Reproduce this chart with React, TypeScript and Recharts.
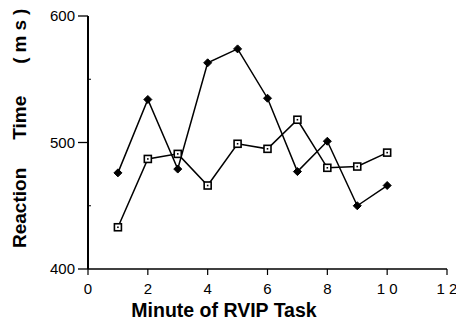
import React from "react";
import { LineChart, Line, XAxis, YAxis, Customized } from "recharts";

const minutes = [1, 2, 3, 4, 5, 6, 7, 8, 9, 10];
const filledSeries = [476, 534, 479, 563, 574, 535, 477, 501, 450, 466];
const openSeries = [433, 487, 491, 466, 499, 495, 518, 480, 481, 492];
const xTicks = [0, 2, 4, 6, 8, 10, 12];
const yTicks = [400, 450, 500, 550, 600];

const data = minutes.map((m, i) => ({ minute: m, filled: filledSeries[i], open: openSeries[i] }));

const FONT = "'Liberation Sans', Arial, Helvetica, sans-serif";

const Diamond = (props: any) => {
  const { cx, cy } = props;
  if (cx == null || cy == null) return null;
  const r = 4;
  return (
    <path
      d={`M${cx},${cy - r} L${cx + r},${cy} L${cx},${cy + r} L${cx - r},${cy} Z`}
      fill="#000"
      stroke="#000"
      strokeWidth={1}
    />
  );
};

const Square = (props: any) => {
  const { cx, cy } = props;
  if (cx == null || cy == null) return null;
  const h = 3.5;
  return (
    <g>
      <rect x={cx - h} y={cy - h} width={2 * h} height={2 * h} fill="#fff" stroke="#000" strokeWidth={1.6} />
      <rect x={cx - 0.8} y={cy - 0.8} width={1.6} height={1.6} fill="#000" />
    </g>
  );
};

const YTick = (props: any) => {
  const { x, y, payload } = props;
  const v = payload.value;
  const major = v % 100 === 0;
  return (
    <g>
      {major ? (
        <>
          <line x1={x} y1={y} x2={x + 10} y2={y} stroke="#000" strokeWidth={1.3} />
          <text x={x - 3} y={y} dy="0.36em" textAnchor="end" fontFamily={FONT} fontSize={15} fill="#000">
            {v}
          </text>
        </>
      ) : (
        <line x1={x + 10} y1={y} x2={x + 13} y2={y} stroke="#000" strokeWidth={1} />
      )}
    </g>
  );
};

const XTick = (props: any) => {
  const { x, y, payload } = props;
  const label = String(payload.value).split("").join(" ");
  const axisY = y - 14;
  return (
    <g>
      <line x1={x} y1={payload.value === 0 ? axisY - 4 : axisY} x2={x} y2={axisY + 6} stroke="#000" strokeWidth={1.2} />
      <text x={x} y={y} dy="0.71em" textAnchor="middle" fontFamily={FONT} fontSize={15} fill="#000">
        {label}
      </text>
    </g>
  );
};

const Labels = () => (
  <g>
    <text
      x={224}
      y={317}
      textAnchor="middle"
      fontFamily={FONT}
      fontSize={19.5}
      fontWeight="bold"
      fill="#000"
    >
      Minute of RVIP Task
    </text>
    <text
      transform="rotate(-90, 26, 248)"
      x={26}
      y={248}
      textAnchor="start"
      fontFamily={FONT}
      fontSize={19}
      fontWeight="bold"
      fill="#000"
    >
      <tspan>Reaction</tspan>
      <tspan dx={28}>Time</tspan>
      <tspan dx={32} letterSpacing={5}>(ms)</tspan>
    </text>
  </g>
);

export default function App() {
  return (
    <div style={{ position: "absolute", left: 0, top: 0, width: 456, height: 324, background: "#fff" }}>
      <LineChart width={456} height={324} data={data} margin={{ top: 16, right: 9, bottom: 0, left: 0 }}>
        <XAxis
          dataKey="minute"
          type="number"
          domain={[0, 12]}
          ticks={xTicks}
          allowDecimals={false}
          height={55}
          axisLine={{ stroke: "#000", strokeWidth: 1.5 }}
          tickLine={false}
          tickSize={6}
          tickMargin={8}
          tick={<XTick />}
          interval={0}
        />
        <YAxis
          type="number"
          domain={[400, 600]}
          ticks={yTicks}
          width={88}
          axisLine={{ stroke: "#000", strokeWidth: 2 }}
          tickLine={false}
          tickSize={10}
          tickMargin={0}
          tick={<YTick />}
          interval={0}
        />
        <Line
          type="linear"
          dataKey="open"
          stroke="#000"
          strokeWidth={1.5}
          dot={<Square />}
          activeDot={false}
          isAnimationActive={false}
        />
        <Line
          type="linear"
          dataKey="filled"
          stroke="#000"
          strokeWidth={1.5}
          dot={<Diamond />}
          activeDot={false}
          isAnimationActive={false}
        />
        <Customized component={Labels} />
      </LineChart>
    </div>
  );
}
